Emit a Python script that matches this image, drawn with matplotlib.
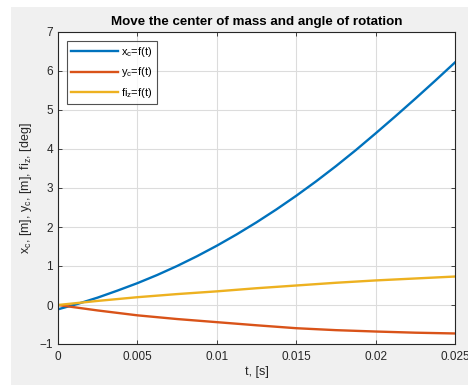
import numpy as np
import matplotlib
matplotlib.use('Agg')
import matplotlib.pyplot as plt
from matplotlib.patches import Rectangle

# ==========================================
# 1. Values
# ==========================================
t_x = [0.0, 0.00125, 0.0025, 0.00375, 0.005, 0.00625, 0.0075, 0.00875, 0.01, 0.01125,
       0.0125, 0.01375, 0.015, 0.01625, 0.0175, 0.01875, 0.02, 0.02125, 0.0225, 0.02375, 0.025]
x_c = [-0.11, 0.03, 0.19, 0.37, 0.56, 0.77, 1.00, 1.25, 1.52, 1.81,
       2.12, 2.45, 2.80, 3.17, 3.56, 3.97, 4.40, 4.84, 5.29, 5.75, 6.22]

t = [0.0, 0.0025, 0.005, 0.0075, 0.01, 0.0125, 0.015, 0.0175, 0.02, 0.0225, 0.025]
y_c = [0.0, -0.14, -0.265, -0.36, -0.44, -0.52, -0.595, -0.645, -0.68, -0.71, -0.73]
fi_z = [0.0, 0.105, 0.20, 0.28, 0.35, 0.43, 0.50, 0.57, 0.63, 0.68, 0.73]

x_ticks = [0, 0.005, 0.01, 0.015, 0.02, 0.025]
x_tick_labels = ['0', '0.005', '0.01', '0.015', '0.02', '0.025']
y_ticks = [-1, 0, 1, 2, 3, 4, 5, 6, 7]
y_tick_labels = ['\u22121', '0', '1', '2', '3', '4', '5', '6', '7']

# MATLAB default colours
C_BLUE = '#0072BD'
C_RED = '#D95319'
C_YEL = '#EDB120'

plt.rcParams['font.family'] = ['Liberation Sans', 'DejaVu Sans']
plt.rcParams['mathtext.fontset'] = 'custom'
plt.rcParams['mathtext.rm'] = 'Liberation Sans'
plt.rcParams['mathtext.it'] = 'Liberation Sans'

# ==========================================
# 2. Figure
# ==========================================
fig = plt.figure(figsize=(4.68, 3.85), dpi=100, facecolor='white')
fig.patches.append(Rectangle((11 / 468, 0), 1, 1 - 7 / 385, transform=fig.transFigure,
                             facecolor='#f0f0f0', edgecolor='none', zorder=-10))

ax = fig.add_axes([58 / 468, 41 / 385, (455 - 58) / 468, (344 - 32) / 385])
ax.set_facecolor('white')

ax.plot(t_x, x_c, color=C_BLUE, lw=1.7, label=r'x$_\mathrm{c}$=f(t)')
ax.plot(t, y_c, color=C_RED, lw=1.7, label=r'y$_\mathrm{c}$=f(t)')
ax.plot(t, fi_z, color=C_YEL, lw=1.7, label=r'fi$_\mathrm{z}$=f(t)')

ax.set_xlim(0, 0.025)
ax.set_ylim(-1, 7)
ax.set_xticks(x_ticks)
ax.set_xticklabels(x_tick_labels)
ax.set_yticks(y_ticks)
ax.set_yticklabels(y_tick_labels)

ax.grid(True, color='#dcdcdc', lw=0.8)
ax.set_axisbelow(True)
for s in ax.spines.values():
    s.set_color('#262626')
    s.set_linewidth(0.8)
ax.tick_params(direction='in', length=3, width=0.6, top=True, right=True,
               colors='#262626', labelsize=8.5, labelcolor='#262626')
ax.tick_params(axis='x', pad=5)

ax.set_title('Move the center of mass and angle of rotation',
             fontsize=9.6, fontweight='bold', color='black', pad=5)
ax.set_xlabel('t, [s]', fontsize=9, color='#262626', labelpad=2)
ax.set_ylabel(r'x$_\mathrm{c}$, [m], y$_\mathrm{c}$, [m], fi$_\mathrm{z}$, [deg]',
              fontsize=9, color='#262626', labelpad=4)

leg = ax.legend(loc='upper left', fontsize=8, handlelength=4.2, frameon=True,
                fancybox=False, edgecolor='#262626', borderaxespad=0.8,
                labelspacing=0.55, handletextpad=0.3, borderpad=0.4)
leg.get_frame().set_linewidth(0.8)

plt.savefig('out.png', dpi=100, facecolor=fig.get_facecolor())
